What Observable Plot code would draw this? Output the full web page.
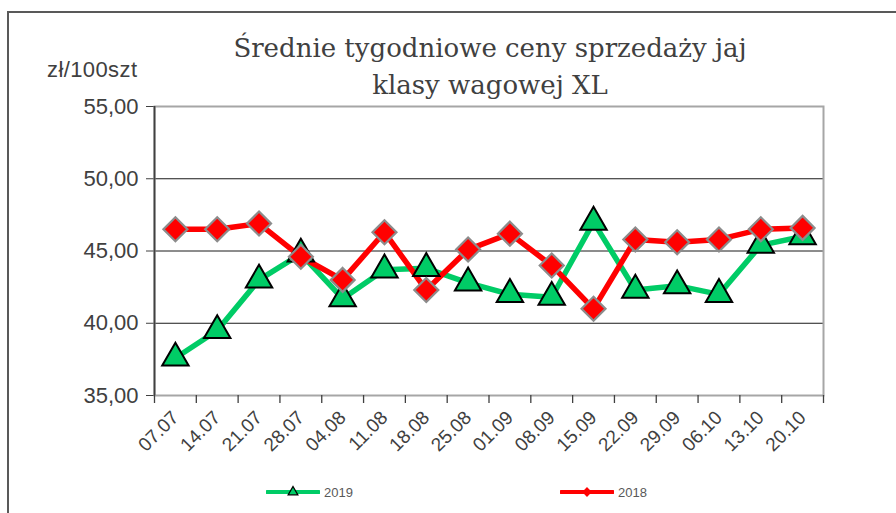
<!DOCTYPE html>
<html>
<head>
<meta charset="utf-8">
<script src="https://cdn.jsdelivr.net/npm/d3@7"></script>
<script src="https://cdn.jsdelivr.net/npm/@observablehq/plot@0.6"></script>
<style>
  html, body { margin: 0; padding: 0; background: #fff; }
  #wrap { position: relative; width: 896px; height: 513px; overflow: hidden; font-family: "Liberation Sans", Arial, sans-serif; }
  #border { position: absolute; left: 7px; top: 11px; width: 900px; height: 520px; border-left: 2px solid #595959; border-top: 2px solid #595959; box-sizing: border-box; }
  #title { position: absolute; left: 190px; width: 600px; top: 30px; text-align: center; font-family: "DejaVu Serif", "Liberation Serif", serif; font-size: 26px; line-height: 37px; color: #404040; }
  #unit { position: absolute; left: 47px; top: 57px; font-size: 22px; color: #404040; letter-spacing: 0.4px; }
  #legend { position: absolute; top: 482px; left: 0; width: 896px; height: 20px; font-size: 13px; color: #595959; }
  .li { position: absolute; display: flex; align-items: center; gap: 4px; }
  #chart { position: absolute; left: 0; top: 0; }
  [aria-label^="y-axis"] text { font-size: 22px !important; fill: #404040; }
  [aria-label^="x-axis"] text { font-size: 19px !important; fill: #404040; }
</style>
</head>
<body>
<div id="wrap">
  <div id="border"></div>
  <div id="chart"></div>
  <div id="title">Średnie tygodniowe ceny sprzedaży jaj<br>klasy wagowej XL</div>
  <div id="unit">zł/100szt</div>
  <div id="legend"></div>
</div>
<script>
const weeks = ["07.07","14.07","21.07","28.07","04.08","11.08","18.08","25.08","01.09","08.09","15.09","22.09","29.09","06.10","13.10","20.10"];
const prices2019 = [37.6, 39.5, 43.0, 44.8, 41.7, 43.7, 43.8, 42.8, 42.0, 41.8, 47.0, 42.3, 42.6, 42.0, 45.4, 46.0];
const prices2018 = [46.5, 46.5, 46.9, 44.6, 43.0, 46.3, 42.3, 45.1, 46.2, 44.0, 41.0, 45.8, 45.6, 45.8, 46.5, 46.6];
const yTicks = [35, 40, 45, 50, 55];
const gridValues = [40, 45, 50];
const seriesNames = ["2019", "2018"];

const W = 896, H = 513;
const mL = 154, mR = 73, mT = 106, mB = 118;
const bw = (W - mL - mR) / weeks.length;

const s2019 = weeks.map((w, i) => ({week: w, value: prices2019[i]}));
const s2018 = weeks.map((w, i) => ({week: w, value: prices2018[i]}));

const green = "#00CC66", red = "#FF0000";

const chart = Plot.plot({
  width: W, height: H,
  marginLeft: mL, marginRight: mR, marginTop: mT, marginBottom: mB,
  style: {fontFamily: "'Liberation Sans', Arial, sans-serif", color: "#404040", background: "transparent"},
  x: {type: "band", domain: weeks, padding: 0, round: false, tickSize: 0, tickRotate: -45, tickPadding: 19, label: null},
  y: {domain: [35, 55], ticks: yTicks, tickSize: 8, tickPadding: 8, tickFormat: d => d3.format(".2f")(d).replace(".", ","), label: null},
  marks: [
    Plot.ruleY(gridValues, {stroke: "#1a1a1a", strokeWidth: 1}),
    Plot.frame({stroke: "#a6a6a6", strokeWidth: 2}),
    Plot.ruleX(weeks, {x: d => d, dx: -bw / 2, insetTop: H - mT - mB, insetBottom: -8, stroke: "#404040", strokeWidth: 1.3}),
    Plot.ruleX([weeks[weeks.length - 1]], {x: d => d, dx: bw / 2, insetTop: H - mT - mB, insetBottom: -8, stroke: "#404040", strokeWidth: 1.3}),
    Plot.ruleX([weeks[0]], {x: d => d, dx: -bw / 2, stroke: "#404040", strokeWidth: 1.8}),
    Plot.line(s2019, {x: "week", y: "value", stroke: green, strokeWidth: 5.5}),
    Plot.line(s2018, {x: "week", y: "value", stroke: red, strokeWidth: 5.5}),
    Plot.dot(s2019, {x: "week", y: "value", symbol: "triangle", r: 9.8, fill: green, stroke: "#000", strokeWidth: 2}),
    Plot.dot(s2018, {x: "week", y: "value", symbol: "diamond2", r: 10.8, fill: red, stroke: "#8c8c8c", strokeWidth: 2.2})
  ]
});
document.getElementById("chart").appendChild(chart);

// legend
const legend = d3.select("#legend");
const legendItems = [
  {name: seriesNames[0], color: green, symbol: d3.symbolTriangle, mfill: green, mstroke: "#000", left: 266},
  {name: seriesNames[1], color: red, symbol: d3.symbolDiamond2, mfill: red, mstroke: red, left: 560}
];
for (const it of legendItems) {
  const item = legend.append("div").attr("class", "li").style("left", it.left + "px").style("top", "0px");
  const svg = item.append("svg").attr("width", 54).attr("height", 20);
  svg.append("line").attr("x1", 1).attr("x2", 53).attr("y1", 10).attr("y2", 10).attr("stroke", it.color).attr("stroke-width", 4).attr("stroke-linecap", "round");
  svg.append("path").attr("d", d3.symbol(it.symbol, 40)()).attr("transform", "translate(27,10)").attr("fill", it.mfill).attr("stroke", it.mstroke).attr("stroke-width", 1.3);
  item.append("span").text(it.name);
}
</script>
</body>
</html>
